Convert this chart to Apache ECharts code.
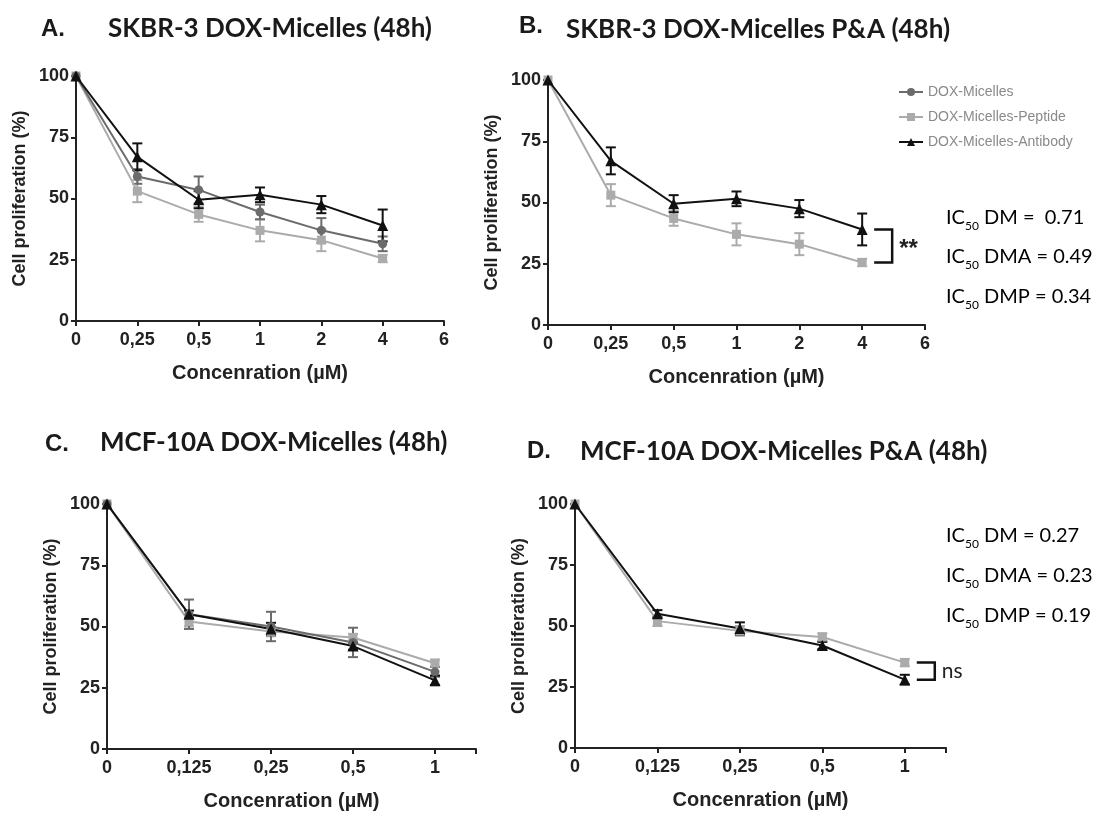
<!DOCTYPE html>
<html>
<head>
<meta charset="utf-8">
<script src="https://cdn.jsdelivr.net/npm/echarts@6/dist/echarts.min.js"></script>
<style>
  html, body { margin: 0; padding: 0; background: #fff; }
  #main { width: 1105px; height: 814px; }
</style>
</head>
<body>
<div id="main"></div>
<script>
// concentrations (placed on an even index scale, like the Prism plot)
const concAB = ['0', '0,25', '0,5', '1', '2', '4', '6'];
const concCD = ['0', '0,125', '0,25', '0,5', '1'];

// SKBR-3, panels A and B
const dmAB = [100, 59, 53.5, 44.5, 37, 31.5];
const dmErrAB = [0, 3, 5.5, 3, 5, 3];
const dmpAB = [100, 53, 43.5, 37, 33, 25.5];
const dmpErrAB = [0, 4.5, 3, 4.5, 4.5, 1.5];
const dmaAB = [100, 67, 49.5, 51.5, 47.5, 39];
const dmaErrAB = [0, 5.5, 3.5, 3, 3.5, 6.5];

// MCF-10A, panels C and D
const dmCD = [100, 55, 50, 43.5, 31.5];
const dmErrCD = [0, 6, 6, 6, 2];
const dmpCD = [100, 52, 48, 45.5, 35];
const dmpErrCD = [0, 2, 2, 1.5, 1.5];
const dmaCD = [100, 55, 49, 42, 28];
const dmaErrCD = [0, 1.5, 2.5, 1.5, 2];

const yTicks = [0, 25, 50, 75, 100];

const names = ['DOX-Micelles', 'DOX-Micelles-Peptide', 'DOX-Micelles-Antibody'];
const colors = { dm: '#6b6b6b', dmp: '#ababab', dma: '#111111' };
const symbols = { dm: 'circle', dmp: 'rect', dma: 'triangle' };

const axisFont = 'Liberation Sans, Arial, sans-serif';
const titleFont = 'Lato, "Open Sans", sans-serif';

const chart = echarts.init(document.getElementById('main'));

function xAxisFor(idx, labels, max) {
  return {
    type: 'value', gridIndex: idx, min: 0, max: max, interval: 1,
    name: 'Concenration (µM)', nameLocation: 'middle', nameGap: 42,
    nameTextStyle: { fontFamily: axisFont, fontWeight: 'bold', fontSize: 20, color: '#222' },
    axisLine: { show: true, onZero: false, lineStyle: { color: '#222', width: 2 } },
    axisTick: { show: true, length: 5, lineStyle: { color: '#222', width: 2 } },
    axisLabel: {
      margin: 10, fontFamily: axisFont, fontWeight: 'bold', fontSize: 18, color: '#222',
      showMaxLabel: true,
      formatter: v => (Number.isInteger(v) && labels[v] !== undefined) ? labels[v] : ''
    },
    splitLine: { show: false }
  };
}

function yAxisFor(idx) {
  return {
    type: 'value', gridIndex: idx, min: yTicks[0], max: yTicks[yTicks.length - 1], interval: 25,
    name: 'Cell proliferation (%)', nameLocation: 'middle', nameGap: 47, nameRotate: 90,
    nameTextStyle: { fontFamily: axisFont, fontWeight: 'bold', fontSize: 18, color: '#222' },
    axisLine: { show: true, lineStyle: { color: '#222', width: 2 } },
    axisTick: { show: true, length: 5, lineStyle: { color: '#222', width: 2 } },
    axisLabel: { margin: 7, fontFamily: axisFont, fontWeight: 'bold', fontSize: 18, color: '#222' },
    splitLine: { show: false }
  };
}

function errRender(color) {
  return function (params, api) {
    const x = api.value(0), y = api.value(1), e = api.value(2);
    if (!e) return null;
    const top = api.coord([x, y + e]);
    const bot = api.coord([x, y - e]);
    const w = 5;
    const st = { stroke: color, lineWidth: 2 };
    return {
      type: 'group',
      children: [
        { type: 'line', shape: { x1: top[0], y1: top[1], x2: bot[0], y2: bot[1] }, style: st },
        { type: 'line', shape: { x1: top[0] - w, y1: top[1], x2: top[0] + w, y2: top[1] }, style: st },
        { type: 'line', shape: { x1: bot[0] - w, y1: bot[1], x2: bot[0] + w, y2: bot[1] }, style: st }
      ]
    };
  };
}

function seriesFor(idx, key, name, vals, errs) {
  return [
    {
      type: 'custom', xAxisIndex: idx, yAxisIndex: idx, silent: true,
      renderItem: errRender(colors[key]),
      data: vals.map((v, i) => [i, v, errs[i]])
    },
    {
      type: 'line', name: name, xAxisIndex: idx, yAxisIndex: idx,
      data: vals.map((v, i) => [i, v]),
      symbol: symbols[key], symbolSize: key === 'dma' ? 11 : 9,
      showSymbol: true, silent: true,
      lineStyle: { color: colors[key], width: 2 },
      itemStyle: { color: colors[key], borderWidth: 0 }
    }
  ];
}

// significance bracket drawn at the last concentration, between two series
function bracketSeries(idx, xi, yHigh, yLow, label) {
  return {
    type: 'custom', xAxisIndex: idx, yAxisIndex: idx, silent: true, z: 5,
    data: [[xi, yHigh, yLow]],
    renderItem: function (params, api) {
      const a = api.coord([api.value(0), api.value(1)]);
      const b = api.coord([api.value(0), api.value(2)]);
      const x0 = a[0] + 12, x1 = a[0] + 30;
      const st = { stroke: '#111', lineWidth: 2.5, fill: null };
      return {
        type: 'group',
        children: [
          { type: 'polyline', shape: { points: [[x0, a[1]], [x1, a[1]], [x1, b[1]], [x0, b[1]]] }, style: st },
          { type: 'text', style: { x: x1 + 7, y: (a[1] + b[1]) / 2 + (label === '**' ? 3 : 0), text: label,
            font: label === '**' ? 'bold 24px ' + axisFont : '21px ' + titleFont,
            fill: '#222', verticalAlign: 'middle' } }
        ]
      };
    }
  };
}

function icText(x, y, rest) {
  return {
    type: 'text', x: x, y: y,
    style: {
      text: '{a|IC}{s|50}{a|' + rest + '}',
      verticalAlign: 'middle',
      rich: {
        a: { fontFamily: titleFont, fontSize: 20, color: '#333', lineHeight: 26, verticalAlign: 'bottom' },
        s: { fontFamily: titleFont, fontSize: 12, color: '#333', lineHeight: 26, verticalAlign: 'bottom', padding: [0, 0, -4, 0] }
      }
    }
  };
}

function heading(x, y, text, font) {
  return { type: 'text', x: x, y: y, style: { text: text, font: font, fill: '#1a1a1a', verticalAlign: 'middle' } };
}

const tFont = 'bold 26px ' + titleFont;
const lFont = 'bold 24px ' + axisFont;

const option = {
  backgroundColor: '#fff',
  animation: false,
  grid: [
    { left: 76, top: 76, width: 368, height: 245, outerBoundsMode: 'none' },
    { left: 548, top: 80, width: 377, height: 245, outerBoundsMode: 'none' },
    { left: 107, top: 504, width: 369, height: 245, outerBoundsMode: 'none' },
    { left: 575, top: 504, width: 371, height: 244, outerBoundsMode: 'none' }
  ],
  xAxis: [xAxisFor(0, concAB, 6), xAxisFor(1, concAB, 6), xAxisFor(2, concCD, 4.5), xAxisFor(3, concCD, 4.5)],
  yAxis: [yAxisFor(0), yAxisFor(1), yAxisFor(2), yAxisFor(3)],
  legend: {
    data: names, orient: 'vertical', left: 893, top: 80, itemGap: 11,
    itemWidth: 24, itemHeight: 10, selectedMode: false,
    textStyle: { fontFamily: axisFont, fontSize: 14, color: '#8a8a8a' }
  },
  series: [].concat(
    seriesFor(0, 'dmp', names[1], dmpAB, dmpErrAB),
    seriesFor(0, 'dm', names[0], dmAB, dmErrAB),
    seriesFor(0, 'dma', names[2], dmaAB, dmaErrAB),
    seriesFor(1, 'dmp', names[1], dmpAB, dmpErrAB),
    seriesFor(1, 'dma', names[2], dmaAB, dmaErrAB),
    [bracketSeries(1, dmaAB.length - 1, dmaAB[dmaAB.length - 1], dmpAB[dmpAB.length - 1], '**')],
    // phantom entry so the legend in B lists DOX-Micelles too
    [{ type: 'line', name: names[0], xAxisIndex: 1, yAxisIndex: 1, data: [], symbol: 'circle', symbolSize: 9,
       lineStyle: { color: colors.dm, width: 2 }, itemStyle: { color: colors.dm } }],
    seriesFor(2, 'dmp', names[1], dmpCD, dmpErrCD),
    seriesFor(2, 'dm', names[0], dmCD, dmErrCD),
    seriesFor(2, 'dma', names[2], dmaCD, dmaErrCD),
    seriesFor(3, 'dmp', names[1], dmpCD, dmpErrCD),
    seriesFor(3, 'dma', names[2], dmaCD, dmaErrCD),
    [bracketSeries(3, dmpCD.length - 1, dmpCD[dmpCD.length - 1], dmaCD[dmaCD.length - 1], 'ns')]
  ),
  graphic: [
    heading(41, 29, 'A.', lFont),
    heading(108, 29, 'SKBR-3 DOX-Micelles (48h)', tFont),
    heading(519, 26, 'B.', lFont),
    heading(566, 30, 'SKBR-3 DOX-Micelles P&A (48h)', tFont),
    heading(45, 444, 'C.', lFont),
    heading(100, 443, 'MCF-10A DOX-Micelles (48h)', tFont),
    heading(527, 451, 'D.', lFont),
    heading(580, 452, 'MCF-10A DOX-Micelles P&A (48h)', tFont),
    icText(946, 215, ' DM =  0.71'),
    icText(946, 254, ' DMA = 0.49'),
    icText(946, 294, ' DMP = 0.34'),
    icText(946, 533, ' DM = 0.27'),
    icText(946, 573, ' DMA = 0.23'),
    icText(946, 613, ' DMP = 0.19')
  ]
};

chart.setOption(option);
</script>
</body>
</html>
